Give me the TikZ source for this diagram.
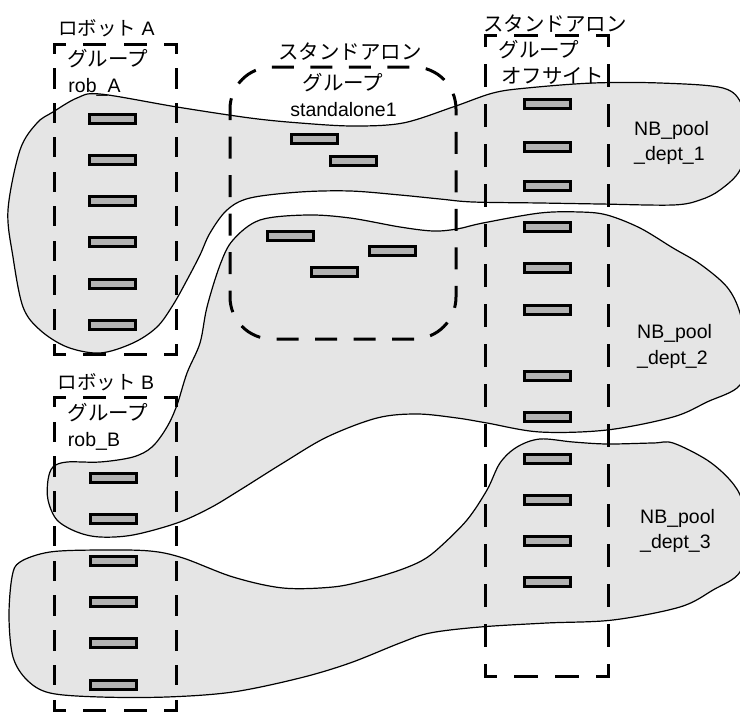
\documentclass[tikz,border=0pt]{standalone}
\usepackage{fontspec}
\setmainfont{Liberation Sans}
\newfontfamily\jp{Noto Sans CJK JP}
\newcommand\dside[5]{%
  \pgfmathsetmacro\dP{(abs(#3-#1)+abs(#4-#2))/#5}%
  \pgfmathsetmacro\dD{0.5*\dP}%
  \pgfmathsetmacro\dG{\dP-\dD}%
  \pgfmathsetmacro\dH{\dD/2}%
  \draw[dbox, dash pattern=on \dD pt off \dG pt, dash phase=\dH pt] (#1,#2) -- (#3,#4);}
\begin{document}
\begin{tikzpicture}[x=1pt,y=-1pt,
  blob/.style={fill=black!10, draw=black, line width=1.2pt},
  dbox/.style={line width=3pt, line cap=rect},
  slot/.style={draw, line width=3pt, fill=black!30, minimum width=46pt, minimum height=9pt, inner sep=0pt},
  lbl/.style={inner sep=0pt, anchor=base, font=\fontsize{19.5}{22}\selectfont},
  lblw/.style={lbl, anchor=base west},
  jlbl/.style={inner sep=0pt, anchor=base, font=\jp\fontsize{20.5}{24}\selectfont}]
\useasboundingbox (0,0) rectangle (740,712);
\clip (0,0) rectangle (740,712);
% pools
\draw[blob] plot[smooth cycle, tension=0.55] coordinates {
 (100,94) (177,107) (250,118) (300,123) (353,126) (403,123) (453,107) (493,93)
 (527,88) (593,83) (660,83) (723,88) (742,105) (748,135) (740,170) (720,190)
 (700,200) (673,205) (600,204) (540,203) (473,202) (440,199) (400,195) (350,191)
 (300,192) (250,198) (227,210) (210,233) (200,255) (187,280) (173,305) (157,327)
 (133,343) (100,353) (67,347) (40,330) (23,307) (13,257) (8,210) (20,150)
 (37,123) (53,112) (77,98)};
\draw[blob] plot[smooth cycle, tension=0.55] coordinates {
 (200,343) (207,307) (220,265) (233,240) (260,220) (307,215) (350,218) (400,227)
 (433,231) (457,229) (483,223) (540,213) (580,212) (607,215) (640,228) (673,248)
 (700,264) (727,287) (740,313) (746,350) (740,385) (707,402) (673,417) (607,430)
 (540,432) (487,423) (457,418) (417,414) (377,418) (327,437) (283,463) (240,490)
 (210,508) (177,523) (133,535) (100,537) (77,532) (57,520) (48,500) (48,480)
 (53,467) (67,462) (100,462) (133,457) (152,447) (167,427) (177,405) (187,373)};
\draw[blob] plot[smooth cycle, tension=0.55] coordinates {
 (20,562) (50,552) (100,550) (150,551) (183,558) (233,577) (283,588) (333,587)
 (367,580) (400,570) (423,560) (440,547) (467,520) (487,490) (500,463) (517,447)
 (540,439) (573,442) (607,444) (653,443) (673,443) (707,460) (730,480) (742,500)
 (748,535) (740,572) (713,590) (680,607) (613,620) (547,623) (480,627) (430,633)
 (400,643) (350,663) (300,678) (233,692) (167,697) (100,697) (50,693) (27,680)
 (13,657) (9,617) (12,577)};
% dashed group boxes
\dside{54}{44}{176}{44}{3}
\dside{54}{44}{54}{354}{9}
\dside{176}{44}{176}{354}{9}
\dside{54}{354}{176}{354}{3}
\dside{54}{397}{176}{397}{3}
\dside{54}{397}{54}{710}{9}
\dside{176}{397}{176}{710}{9}
\dside{54}{710}{176}{710}{3}
\dside{485}{35}{608}{35}{3}
\dside{485}{35}{485}{676}{16}
\dside{608}{35}{608}{676}{16}
\dside{485}{676}{608}{676}{3}
\draw[line width=3pt, rounded corners=42pt, dash pattern=on 22pt off 16.5pt, dash phase=11pt]
  (230,67) rectangle (456,339);
% slots
\foreach \y [count=\i] in {119,160,201,242,284,325} \node[slot] (ra\i) at (112,\y) {};
\foreach \y [count=\i] in {478,519,561,602,643,685} \node[slot] (rb\i) at (113.5,\y) {};
\foreach \y [count=\i] in {104,147,186,227,268,310,376,417,459,500,541,582} \node[slot] (so\i) at (547,\y) {};
\node[slot] (sa1) at (314.5,139) {};
\node[slot] (sa2) at (353.5,161) {};
\node[slot] (sa3) at (290,236) {};
\node[slot] (sa4) at (392.5,251) {};
\node[slot] (sa5) at (334.5,272) {};
% labels
\node[lbl] (tA1) at (106.5,35) {{\jp ロボット} A};
\node[jlbl] (tA2) at (107.5,66) {グループ};
\node[lbl] (tA3) at (94.5,92) {rob\_A};
\node[lbl] (tB1) at (106,389) {{\jp ロボット} B};
\node[jlbl] (tB2) at (108,420) {グループ};
\node[lbl] (tB3) at (94,446) {rob\_B};
\node[jlbl] (tS1) at (350,59) {スタンドアロン};
\node[jlbl] (tS2) at (343,90) {グループ};
\node[lbl] (tS3) at (343.5,116) {standalone1};
\node[jlbl] (tO1) at (555,31) {スタンドアロン};
\node[jlbl] (tO2) at (539,57) {グループ};
\node[jlbl] (tO3) at (552.5,83) {オフサイト};
\node[lblw] (p1a) at (634,135) {NB\_pool};
\node[lblw] (p1b) at (634,160) {\_dept\_1};
\node[lblw] (p2a) at (637,338) {NB\_pool};
\node[lblw] (p2b) at (637,364) {\_dept\_2};
\node[lblw] (p3a) at (640,523) {NB\_pool};
\node[lblw] (p3b) at (640,548) {\_dept\_3};
\end{tikzpicture}
\end{document}
